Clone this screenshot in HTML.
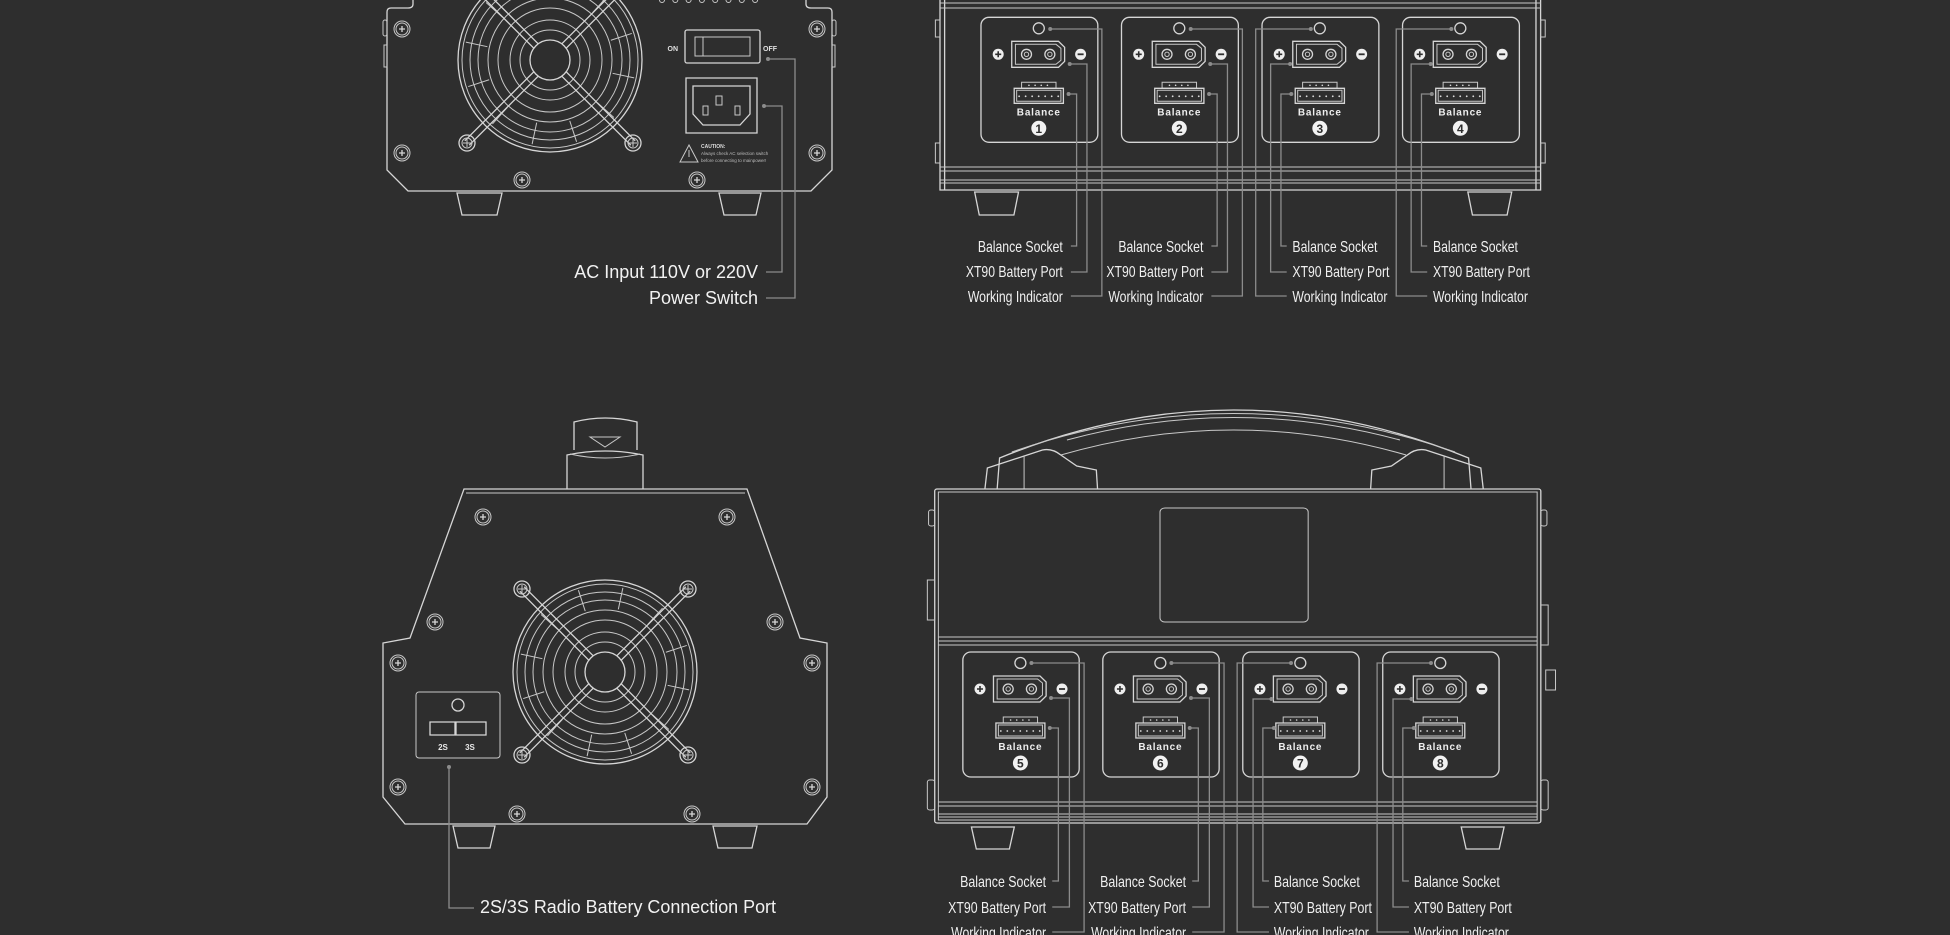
<!DOCTYPE html>
<html><head><meta charset="utf-8"><style>
html,body{margin:0;padding:0;background:#2e2e2e;width:1950px;height:935px;overflow:hidden}
svg{display:block}
.s{fill:none;stroke:#d6d6d6;stroke-width:1.3;vector-effect:non-scaling-stroke}
.t{fill:none;stroke:#c8c8c8;stroke-width:1;vector-effect:non-scaling-stroke}
.l{fill:none;stroke:#8c8c8c;stroke-width:1.3}
.lab{fill:#f0f0f0;font-family:"Liberation Sans Narrow","Liberation Sans",sans-serif}
.big{fill:#f2f2f2;font-family:"Liberation Sans",sans-serif;font-size:18px}
</style></head><body>
<svg id="c" width="1950" height="935" viewBox="0 0 1950 935" xmlns="http://www.w3.org/2000/svg">
<rect width="1950" height="935" fill="#2e2e2e"/>

<!-- TOP LEFT DEVICE -->
<path class="s" d="M413,0 L413,4 Q413,8 408,8 L391,8 Q387,8 387,12 L387,170 L408,191 L811,191 L832,170 L832,12 Q832,8 828,8 L811,8 Q806,8 806,4 L806,0"/>
<rect class="t" x="383" y="20" width="4" height="16" rx="2"/>
<rect class="t" x="384" y="45" width="3" height="22"/>
<rect class="t" x="832" y="20" width="4" height="16" rx="2"/>
<rect class="t" x="832" y="45" width="3" height="22"/>
<path class="s" d="M457,193 L502,193 L497,215 L462,215 Z M719,193 L761,193 L756,215 L724,215 Z"/>
<rect class="s" x="685" y="30" width="75" height="33" rx="2"/>
<rect class="t" x="695" y="37" width="55" height="19"/>
<line class="t" x1="703" y1="37" x2="703" y2="56"/>
<text x="678" y="51" text-anchor="end" fill="#e0e0e0" font-family="Liberation Sans,sans-serif" font-size="7" font-weight="bold">ON</text>
<text x="763" y="51" fill="#e0e0e0" font-family="Liberation Sans,sans-serif" font-size="7" font-weight="bold">OFF</text>
<rect class="s" x="686" y="78" width="71" height="55"/>
<path class="s" d="M693,86 L750,86 L750,114 L740,125 L703,125 L693,114 Z"/>
<rect class="t" x="716" y="96" width="6" height="9"/>
<rect class="t" x="703" y="106" width="5" height="9"/>
<rect class="t" x="735" y="106" width="5" height="9"/>
<path class="t" d="M689,145 L680,162 L698,162 Z"/>
<line class="t" x1="689" y1="150" x2="689" y2="157"/>
<text x="701" y="148" fill="#ddd" font-family="Liberation Sans,sans-serif" font-size="5" font-weight="bold">CAUTION:</text>
<text x="701" y="155" fill="#bbb" font-family="Liberation Sans,sans-serif" font-size="4.5">Always check AC selection switch</text>
<text x="701" y="162" fill="#bbb" font-family="Liberation Sans,sans-serif" font-size="4.5">before connecting to mainpower!</text>
<circle cx="768" cy="59" r="2" fill="#8c8c8c"/><polyline class="l" points="768,59 795,59 795,298 766,298"/>
<circle cx="764" cy="106" r="2" fill="#8c8c8c"/><polyline class="l" points="764,106 782,106 782,272 766,272"/>
<text class="big" x="758" y="278" text-anchor="end">AC Input 110V or 220V</text>
<text class="big" x="758" y="304" text-anchor="end">Power Switch</text>

<!-- TOP RIGHT DEVICE (x-scaled) -->
<g transform="translate(940,0) scale(1.155,1) translate(-940,0)">
<path class="s" d="M940,0 L940,190 L1460,190 L1460,0"/>
<line class="s" x1="944" y1="0" x2="944" y2="190"/><line class="s" x1="1456" y1="0" x2="1456" y2="190"/>
<line class="t" x1="940" y1="3" x2="1460" y2="3"/><line class="t" x1="940" y1="8" x2="1460" y2="8"/>
<line class="t" x1="940" y1="167" x2="1460" y2="167"/><line class="t" x1="940" y1="171" x2="1460" y2="171"/>
<line class="t" x1="940" y1="180" x2="1460" y2="180"/><line class="t" x1="940" y1="183" x2="1460" y2="183"/>
<rect class="t" x="936" y="20" width="4" height="17"/><rect class="t" x="936" y="143" width="4" height="20"/>
<rect class="t" x="1460" y="20" width="4" height="17"/><rect class="t" x="1460" y="143" width="4" height="20"/>
<path class="s" d="M970,192 L1008,192 L1004,215 L974,215 Z M1397,192 L1435,192 L1431,215 L1401,215 Z"/>
</g>

<!-- BOTTOM LEFT DEVICE -->
<path class="s" d="M574,450 L574,422 Q605,414 637,422 L637,450"/>
<path class="t" d="M590,437 L620,437 L605,447 Z"/>
<path class="s" d="M567,489 L567,455 Q605,447 643,455 L643,489"/>
<path class="t" d="M570,454 Q605,462 640,454"/>
<path class="s" d="M464,489 L747,489 L800,638 L827,643 L827,797 L807,824 L405,824 L383,797 L383,643 L410,638 Z"/>
<line class="t" x1="466" y1="493" x2="745" y2="493"/>
<rect class="t" x="416" y="692" width="84" height="66" rx="3"/>
<circle class="s" cx="458" cy="705" r="6"/>
<rect class="s" x="430" y="722" width="25" height="13"/><rect class="s" x="456" y="722" width="30" height="13"/>
<text x="443" y="750" text-anchor="middle" fill="#e8e8e8" font-family="Liberation Sans,sans-serif" font-size="8" font-weight="bold">2S</text>
<text x="470" y="750" text-anchor="middle" fill="#e8e8e8" font-family="Liberation Sans,sans-serif" font-size="8" font-weight="bold">3S</text>
<path class="s" d="M453,826 L495,826 L490,848 L458,848 Z M713,826 L757,826 L752,848 L718,848 Z"/>
<circle cx="449" cy="767" r="2" fill="#8c8c8c"/><polyline class="l" points="449,767 449,908 474,908"/>
<text class="big" x="480" y="913" textLength="296" lengthAdjust="spacingAndGlyphs">2S/3S Radio Battery Connection Port</text>

<!-- BOTTOM RIGHT DEVICE (x-scaled) -->
<g transform="translate(920,0) scale(1.2245,1) translate(-920,0)">
<path class="s" d="M983,489 L985,458 Q1176,362 1368,458 L1370,489"/>
<path class="t" d="M995,452 Q1176,375 1357,452"/>
<path class="t" d="M1040,440 Q1176,395 1312,440"/>
<path class="t" d="M1035,455 Q1176,405 1317,455"/>
<path class="s" d="M973,489 L975,468 L1020,450 Q1028,448 1035,455 L1048,466 L1064,470 L1065,489"/>
<path class="s" d="M1380,489 L1378,468 L1333,450 Q1325,448 1318,455 L1305,466 L1289,470 L1288,489"/>
<line class="t" x1="1005" y1="456" x2="1005" y2="489"/><line class="t" x1="1348" y1="456" x2="1348" y2="489"/>
<rect class="s" x="932" y="489" width="495" height="334" rx="2"/>
<rect class="t" x="935" y="492" width="489" height="328"/>
<rect class="t" x="1116" y="508" width="121" height="114" rx="4"/>
<line class="t" x1="935" y1="637" x2="1424" y2="637"/><line class="t" x1="935" y1="641" x2="1424" y2="641"/><line class="t" x1="935" y1="645" x2="1424" y2="645"/>
<line class="t" x1="935" y1="802" x2="1424" y2="802"/><line class="t" x1="935" y1="806" x2="1424" y2="806"/>
<line class="t" x1="935" y1="814" x2="1424" y2="814"/><line class="t" x1="935" y1="817" x2="1424" y2="817"/>
<rect class="t" x="927" y="510" width="5" height="16" rx="2"/><rect class="t" x="1427" y="510" width="5" height="16" rx="2"/>
<rect class="t" x="926" y="580" width="6" height="40"/><rect class="t" x="1427" y="605" width="6" height="40"/>
<rect class="t" x="926" y="780" width="6" height="30" rx="2"/><rect class="t" x="1427" y="780" width="6" height="30" rx="2"/>
<rect class="t" x="1431" y="670" width="8" height="20"/>
<path class="s" d="M962,827 L997,827 L993,849 L966,849 Z M1362,827 L1397,827 L1393,849 L1366,849 Z"/>
</g>
</svg>
<script>
(function(){
var NS="http://www.w3.org/2000/svg",svg=document.getElementById('c');
function el(tag,a,p,txt){var e=document.createElementNS(NS,tag);for(var k in a)e.setAttribute(k,a[k]);if(txt!==undefined)e.textContent=txt;(p||svg).appendChild(e);return e;}
for(var i=0;i<8;i++)el('circle',{cx:662+i*13.3,cy:0,r:2.5,'class':'t'});
function screw(x,y){el('circle',{cx:x,cy:y,r:8,'class':'t'});el('circle',{cx:x,cy:y,r:6,'class':'t'});
 el('path',{d:'M'+(x-3)+','+y+'H'+(x+3)+'M'+x+','+(y-3)+'V'+(y+3),'class':'s'});}
function fan(cx,cy,o){
 [92,88,80,72,62,52,40,30,20].forEach(function(r){el('circle',{cx:cx,cy:cy,r:r,'class':(r==92||r==20)?'s':'t'});});
 for(var a=0;a<360;a+=30){var rad=(a+12)*Math.PI/180;el('line',{x1:cx+64*Math.cos(rad),y1:cy+64*Math.sin(rad),x2:cx+86*Math.cos(rad),y2:cy+86*Math.sin(rad),'class':'t'});}
 [[-1,-1],[1,-1],[-1,1],[1,1]].forEach(function(d){var sx=cx+d[0]*o,sy=cy+d[1]*o;
  var ex=cx+d[0]*14,ey=cy+d[1]*14;var nx=-d[1]*2.2,ny=d[0]*2.2;
  el('line',{x1:sx+nx,y1:sy+ny,x2:ex+nx,y2:ey+ny,'class':'s'});el('line',{x1:sx-nx,y1:sy-ny,x2:ex-nx,y2:ey-ny,'class':'s'});
  if(sy>-5){el('circle',{cx:sx,cy:sy,r:8,'class':'s'});el('circle',{cx:sx,cy:sy,r:5,'class':'t'});
  el('path',{d:'M'+(sx-4)+','+sy+'H'+(sx+4)+'M'+sx+','+(sy-4)+'V'+(sy+4),'class':'t'});}});
}
fan(550,60,83);fan(605,672,83);
[[402,29],[402,153],[817,29],[817,153],[522,180],[697,180]].forEach(function(p){screw(p[0],p[1]);});
[[483,517],[727,517],[435,622],[775,622],[398,663],[812,663],[398,787],[812,787],[517,814],[692,814]].forEach(function(p){screw(p[0],p[1]);});
function mod(x,y,sx,n){var g=el('g',{transform:'translate('+x+','+y+')'});
 function X(v){return v*sx;}
 el('rect',{x:0,y:0,width:X(95),height:125,rx:8,'class':'s'},g);
 el('circle',{cx:X(47),cy:11,r:5.5,'class':'s'},g);
 el('path',{d:'M'+X(25)+',24 H'+X(63)+' L'+X(68)+',30 V44 L'+X(63)+',50 H'+X(25)+' Z','class':'s'},g);
 el('path',{d:'M'+X(28)+',27 H'+X(61)+' L'+X(65)+',31 V43 L'+X(61)+',47 H'+X(28)+' Z','class':'t'},g);
 [37,56].forEach(function(c){el('circle',{cx:X(c),cy:37,r:5,'class':'s'},g);el('circle',{cx:X(c),cy:37,r:2.2,'class':'t'},g);});
 el('circle',{cx:X(14),cy:37,r:5.5,fill:'#eee'},g);el('path',{d:'M'+(X(14)-3)+',37h6M'+X(14)+',34v6',stroke:'#2e2e2e','stroke-width':1.6},g);
 el('circle',{cx:X(81),cy:37,r:5.5,fill:'#eee'},g);el('path',{d:'M'+(X(81)-3)+',37h6',stroke:'#2e2e2e','stroke-width':1.8},g);
 el('rect',{x:X(33),y:65,width:X(28),height:6,'class':'t'},g);
 el('rect',{x:X(27),y:71,width:X(40),height:15,'class':'s'},g);el('rect',{x:X(29),y:73,width:X(36),height:11,'class':'t'},g);
 for(var i=0;i<7;i++)el('circle',{cx:X(31+i*5.3),cy:79,r:0.9,fill:'#ddd'},g);
 for(var j=0;j<4;j++)el('circle',{cx:X(39+j*5),cy:68,r:0.8,fill:'#ddd'},g);
 el('text',{x:X(47),y:98,'text-anchor':'middle',fill:'#eee','font-family':'Liberation Sans,sans-serif','font-size':'10','font-weight':'bold','letter-spacing':'0.8'},g,'Balance');
 el('circle',{cx:X(47),cy:111,r:7.5,fill:'#f2f2f2'},g);
 el('text',{x:X(47),y:115.5,'text-anchor':'middle',fill:'#2e2e2e','font-family':'Liberation Sans,sans-serif','font-size':'12','font-weight':'bold'},g,String(n));
}
function T(x){return 940+(x-940)*1.148;}
function B(x){return 920+(x-920)*1.2245;}
for(var k=0;k<4;k++){mod(T(975.7+k*122.4),17.3,1.23,k+1);mod(B(955+k*114.3),652,1.2245,k+5);}
function dot(x,y){el('circle',{cx:x,cy:y,r:2,fill:'#8c8c8c'});}
function lead(F,d,vx,ey,hx){var x0=F(d[0]),v=F(vx),h=F(hx);dot(x0,d[1]);el('polyline',{points:x0+','+d[1]+' '+v+','+d[1]+' '+v+','+ey+' '+h+','+ey,'class':'l'});}
function lab(x,y,t,anchor,w,fs){el('text',{x:x,y:y,'class':'lab','font-size':fs,'text-anchor':anchor,textLength:w,lengthAdjust:'spacingAndGlyphs'},svg,t);}
var TL=[['Balance Socket',85],['XT90 Battery Port',97],['Working Indicator',95]];
var BL=[['Balance Socket',86],['XT90 Battery Port',98],['Working Indicator',95]];
var tys=[246,272,296],tby=[252,277,302];
[0,1].forEach(function(k){var o=k*122.4;
 lead(T,[1052+o,94],1059+o,tys[0],1054+o);lead(T,[1053+o,64],1068+o,tys[1],1054+o);lead(T,[1036+o,29],1081+o,tys[2],1054+o);
 for(var i=0;i<3;i++)lab(T(1047+o),tby[i],TL[i][0],'end',TL[i][1],16);});
[0,1].forEach(function(k){var o=k*122.4;
 lead(T,[1246+o,94],1237+o,tys[0],1242+o);lead(T,[1245+o,64],1228+o,tys[1],1242+o);lead(T,[1263+o,29],1215+o,tys[2],1242+o);
 for(var i=0;i<3;i++)lab(T(1247+o),tby[i],TL[i][0],'start',TL[i][1],16);});
var bys=[881,907,932],bby=[887,913,938];
[0,1].forEach(function(k){var o=k*114.3;
 lead(B,[1026+o,728],1033+o,bys[0],1028+o);lead(B,[1027+o,698],1042+o,bys[1],1028+o);lead(B,[1011+o,663],1054+o,bys[2],1028+o);
 for(var i=0;i<3;i++)lab(B(1023+o),bby[i],BL[i][0],'end',BL[i][1],16);});
[0,1].forEach(function(k){var o=k*114.3;
 lead(B,[1209+o,728],1200+o,bys[0],1205+o);lead(B,[1207+o,699],1192+o,bys[1],1205+o);lead(B,[1223+o,663],1179+o,bys[2],1205+o);
 for(var i=0;i<3;i++)lab(B(1209+o),bby[i],BL[i][0],'start',BL[i][1],16);});
})();
</script>
</body></html>
